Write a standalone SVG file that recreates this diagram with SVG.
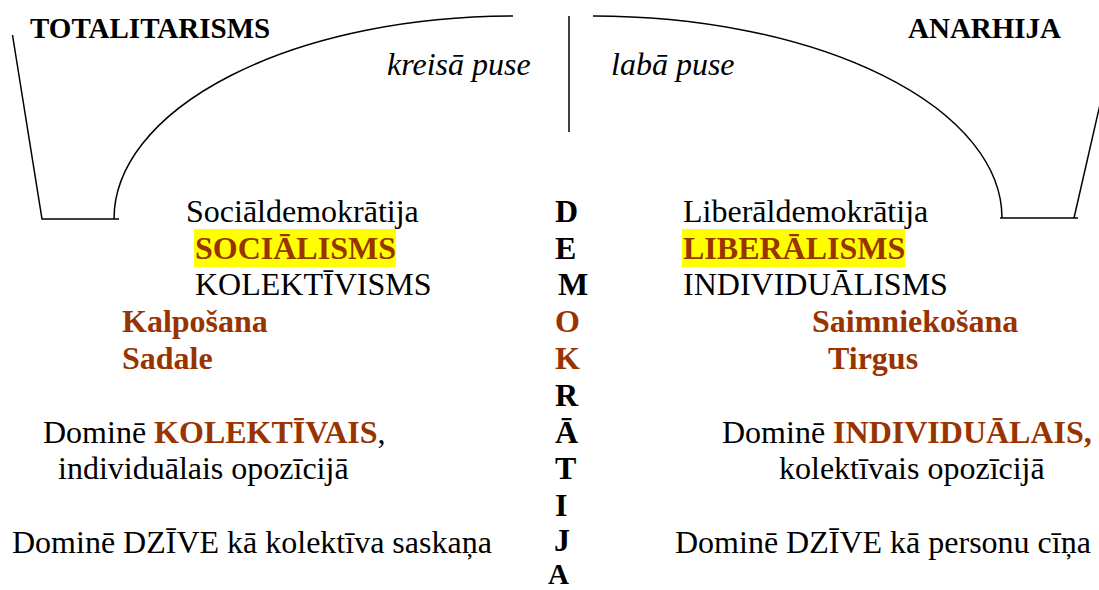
<svg xmlns="http://www.w3.org/2000/svg" width="1099" height="590" viewBox="0 0 1099 590">
<style>
text{font-family:"Liberation Serif","Times New Roman",serif;font-size:32px;fill:#000}
.b{font-weight:bold}
.br{fill:#993300;font-weight:bold}
.it{font-style:italic}
.hd{font-size:29px;font-weight:bold}
.ln{fill:none;stroke:#000;stroke-width:1.5}
.hl{fill:#FFFF00}
</style>
<g id="connectors">
<path class="ln" d="M12.5,35 L42,219 L119,219"/>
<path class="ln" d="M114,219 A399,203 0 0 1 513,16"/>
<path class="ln" d="M569,16 L569,132"/>
<path class="ln" d="M593,16 A409,202 0 0 1 1002,218"/>
<path class="ln" d="M1000,218 L1078,218"/>
<path class="ln" d="M1074,218 L1101,100"/>
</g>
<g id="headers">
<text class="hd" x="30" y="38">TOTALITARISMS</text>
<text class="hd" x="908" y="38">ANARHIJA</text>
<text class="it" x="387" y="75">kreisā puse</text>
<text class="it" x="611" y="75">labā puse</text>
</g>
<g id="demokratija">
<text class="b" x="555" y="221.7">D</text>
<text class="b" x="555" y="258.5">E</text>
<text class="b" x="558" y="295.3">M</text>
<text class="br" x="555" y="332.1">O</text>
<text class="br" x="555" y="368.9">K</text>
<text class="b" x="555" y="405.7">R</text>
<text class="b" x="555" y="442.5">Ā</text>
<text class="b" x="555" y="479.3">T</text>
<text class="b" x="555" y="516.1">I</text>
<text class="b" x="554" y="551">J</text>
<text class="b" x="548" y="583.5" style="font-size:29px">A</text>
</g>
<g id="left">
<text x="186" y="221.7">Sociāldemokrātija</text>
<rect class="hl" x="194" y="229" width="202" height="38"/>
<text class="br" x="195" y="258.5">SOCIĀLISMS</text>
<text x="195" y="295.3">KOLEKTĪVISMS</text>
<text class="br" x="122" y="332.1">Kalpošana</text>
<text class="br" x="122" y="368.9">Sadale</text>
<text x="43" y="442.5">Dominē <tspan class="br">KOLEKTĪVAIS</tspan>,</text>
<text x="58" y="479.3">individuālais opozīcijā</text>
<text x="12" y="552.9">Dominē DZĪVE kā kolektīva saskaņa</text>
</g>
<g id="right">
<text x="683" y="221.7">Liberāldemokrātija</text>
<rect class="hl" x="682" y="229" width="223" height="38"/>
<text class="br" x="683" y="258.5">LIBERĀLISMS</text>
<text x="683" y="295.3">INDIVIDUĀLISMS</text>
<text class="br" x="812" y="332.1">Saimniekošana</text>
<text class="br" x="828" y="368.9">Tirgus</text>
<text x="722" y="442.5">Dominē <tspan class="br">INDIVIDUĀLAIS,</tspan></text>
<text x="779" y="479.3">kolektīvais opozīcijā</text>
<text x="675" y="552.9">Dominē DZĪVE kā personu cīņa</text>
</g>
</svg>
